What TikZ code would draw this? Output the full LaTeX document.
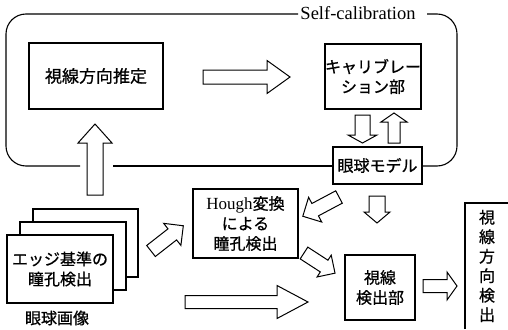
\documentclass[tikz,border=0pt]{standalone}
\usepackage{fontspec}
\setmainfont{Liberation Serif}
\newfontfamily\jp[FakeBold=0.8]{Noto Sans CJK JP}
\newcommand\blkarrow[7]{%
  \begin{scope}[shift={(#1,#2)},rotate=#3]
    \draw[arrowline] (0,-#5) -- ({#4-#7},-#5) -- ({#4-#7},-#6) -- (#4,0) -- ({#4-#7},#6) -- ({#4-#7},#5) -- (0,#5) -- cycle;
  \end{scope}}
\begin{document}
\begin{tikzpicture}[x=1pt,y=-1pt,
  box/.style={draw,line width=1.1pt,fill=white,inner sep=0pt,align=center,font=\jp\fontsize{16}{20}\selectfont},
  frame/.style={line width=1.1pt,rounded corners=20pt},
  arrowline/.style={draw,line width=1pt,fill=white,line join=miter},
  lbl/.style={inner sep=0pt,align=center,font=\jp\fontsize{16}{20}\selectfont}]
\useasboundingbox (0,0) rectangle (508,329);
% Self-calibration frame
\draw[frame] (80,166) -- (6,166) -- (6,14) -- (298,14);
\draw[frame] (427,14) -- (457,14) -- (457,166) -- (422,166);
\draw[line width=1.1pt] (113,166) -- (333,166);
\node[inner sep=0pt,font=\fontsize{18.5}{20}\selectfont] (selfcal) at (358,13) {Self-calibration};
% boxes
\node[box,minimum width=134pt,minimum height=66pt,font=\jp\fontsize{17}{20}\selectfont] (est) at (96,76) {視線方向推定};
\node[box,minimum width=96pt,minimum height=65pt] (cal) at (373,76.5) {キャリブレー\\ション部};
\node[box,minimum width=89pt,minimum height=37pt] (model) at (377.5,165.5) {眼球モデル};
\node[box,minimum width=105pt,minimum height=69pt] (hough) at (245.5,223.5) {{\rmfamily\fontsize{17}{20}\selectfont Hough}変換\\による\\瞳孔検出};
\node[box,minimum width=70pt,minimum height=65pt] (det) at (380,287.5) {視線\\検出部};
% stacked images
\node[box,minimum width=105pt,minimum height=68pt] (img3) at (85.5,243) {};
\node[box,minimum width=106pt,minimum height=68pt] (img2) at (73,256) {};
\node[box,minimum width=106pt,minimum height=68pt] (img1) at (60,269) {エッジ基準の\\瞳孔検出};
\node[lbl] (imglbl) at (57,318) {眼球画像};
% output vertical box
\coordinate (outbl) at (465,329);
\coordinate (outtl) at (465,203);
\coordinate (outtr) at (508,203);
\draw[line width=1.1pt] (outbl) -- (outtl) -- (outtr);
\node[lbl,font=\jp\fontsize{16}{19.5}\selectfont] (out) at (487,266) {視\\線\\方\\向\\検\\出};
% block arrows
\blkarrow{203}{77}{0}{87}{7}{16.5}{23}
\blkarrow{362.5}{115}{-90}{28}{7.5}{14.5}{8}
\blkarrow{394}{143}{90}{30}{6}{13}{9}
\blkarrow{95}{195}{90}{71}{8}{17}{19}
\blkarrow{151}{251}{38}{41}{7}{14}{14}
\blkarrow{339}{197}{208}{41}{7}{14}{14}
\blkarrow{304}{253}{-33}{37}{7}{13}{13}
\blkarrow{377}{196}{-90}{27}{8}{13}{11}
\blkarrow{185}{302}{0}{123}{6.5}{16.5}{31}
\blkarrow{423}{286}{0}{34}{6.5}{14}{10}
\end{tikzpicture}
\end{document}
